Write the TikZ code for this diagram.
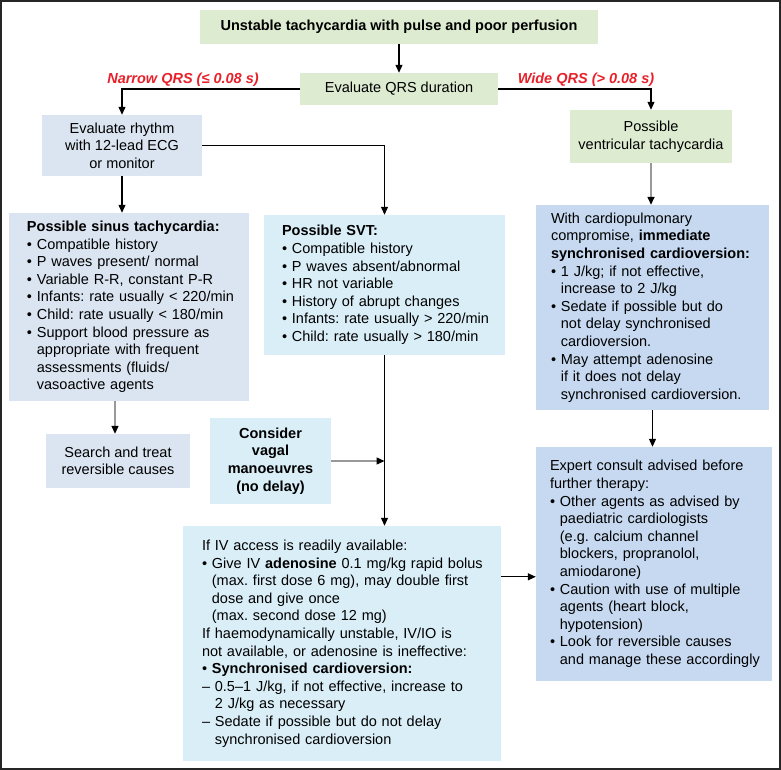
\documentclass[tikz,border=0pt]{standalone}
\usepackage{fontspec}
\setmainfont{Liberation Sans}
\usetikzlibrary{arrows.meta}
\definecolor{greenfill}{HTML}{DDEBD1}
\definecolor{greyfill}{HTML}{DBE5F1}
\definecolor{cyanfill}{HTML}{DAEEF7}
\definecolor{bluefill}{HTML}{C6D9F0}
\definecolor{labelred}{HTML}{E8202A}
\definecolor{linegrey}{HTML}{999999}
\newcommand{\itemdot}{\textbullet\ }
\newcommand{\itemgap}{\hphantom{\textbullet\ }}
\newcommand{\dashgap}{\hphantom{--\ }}

\begin{document}
\begin{tikzpicture}
[x=1pt,y=-1pt,
  boxdecorate/.style={shape=rectangle,inner sep=0pt,align=center,
    font=\fontsize{14.5}{17.6}\selectfont\frenchspacing},%
  listdecorate/.style={boxdecorate,align=left,
    execute at begin node={\rightskip=0pt plus 1fil minus 30pt}},%
  labeldecorate/.style={text=labelred,font=\fontsize{14.5}{17.6}\selectfont\bfseries\itshape},%
  linedecorate/.style={-{Triangle[length=8pt,width=7pt]},line width=1.1pt},%
  greylinedecorate/.style={linedecorate,draw=linegrey,
    -{Triangle[length=8pt,width=7pt,color=black]},line width=1.4pt}]
\useasboundingbox (0,0) rectangle (781,770);
\draw[line width=1.6pt,black!85] (0.8,0.8) rectangle (780.2,769.2);
%% nodes or boxes
\node (title) at (399,27) [boxdecorate,fill=greenfill,minimum width=398,minimum height=34]
  {\bfseries Unstable tachycardia with pulse and poor perfusion};
\node (qrs) at (399,89) [boxdecorate,fill=greenfill,minimum width=198,minimum height=32]
  {Evaluate QRS duration};
\node (narrow) at (183,80) [labeldecorate] {Narrow QRS (≤ 0.08 s)};
\node (wide) at (586,80) [labeldecorate] {Wide QRS (> 0.08 s)};
\node (rhythm) at (122,145.5) [boxdecorate,fill=greyfill,minimum width=160,minimum height=61]
  {Evaluate rhythm\\with 12-lead ECG\\or monitor};
\node (vt) at (651,136.5) [boxdecorate,fill=greenfill,minimum width=162,minimum height=53]
  {Possible\\ventricular tachycardia};
\node (sinus) at (129,307) [listdecorate,fill=greyfill,text width=204,inner xsep=18,minimum height=188]
  {\textbf{Possible sinus tachycardia:}\\
   \itemdot Compatible history\\
   \itemdot P waves present/ normal\\
   \itemdot Variable R-R, constant P-R\\
   \itemdot Infants: rate usually < 220/min\\
   \itemdot Child: rate usually < 180/min\\
   \itemdot Support blood pressure as\\
   \itemgap appropriate with frequent\\
   \itemgap assessments (fluids/\\
   \itemgap vasoactive agents};
\node (svt) at (384.5,285) [listdecorate,fill=cyanfill,text width=205,inner xsep=18,minimum height=140]
  {\textbf{Possible SVT:}\\
   \itemdot Compatible history\\
   \itemdot P waves absent/abnormal\\
   \itemdot HR not variable\\
   \itemdot History of abrupt changes\\
   \itemdot Infants: rate usually > 220/min\\
   \itemdot Child: rate usually > 180/min};
\node (cardio) at (652.5,307.5) [listdecorate,fill=bluefill,text width=203,inner xsep=15,minimum height=205]
  {With cardiopulmonary\\
   compromise, \textbf{immediate}\\
   \textbf{synchronised cardioversion:}\\
   \itemdot 1 J/kg; if not effective,\\
   \itemgap increase to 2 J/kg\\
   \itemdot Sedate if possible but do\\
   \itemgap not delay synchronised\\
   \itemgap cardioversion.\\
   \itemdot May attempt adenosine\\
   \itemgap if it does not delay\\
   \itemgap synchronised cardioversion.};
\node (search) at (118,461) [boxdecorate,fill=greyfill,minimum width=144,minimum height=54]
  {Search and treat\\reversible causes};
\node (vagal) at (270.5,461) [boxdecorate,fill=cyanfill,minimum width=121,minimum height=86,
  font=\fontsize{14.5}{17.6}\selectfont\bfseries]
  {Consider\\vagal\\manoeuvres\\(no delay)};
\node (iv) at (342,643.5) [listdecorate,fill=cyanfill,text width=280,inner xsep=19,minimum height=235]
  {If IV access is readily available:\\
   \itemdot Give IV \textbf{adenosine} 0.1 mg/kg rapid bolus\\
   \itemgap (max. first dose 6 mg), may double first\\
   \itemgap dose and give once\\
   \itemgap (max. second dose 12 mg)\\
   If haemodynamically unstable, IV/IO is\\
   not available, or adenosine is ineffective:\\
   \itemdot \textbf{Synchronised cardioversion:}\\
   -- 0.5--1 J/kg, if not effective, increase to\\
   \dashgap 2 J/kg as necessary\\
   -- Sedate if possible but do not delay\\
   \dashgap synchronised cardioversion};
\node (expert) at (654,564) [listdecorate,fill=bluefill,text width=208,inner xsep=14,minimum height=234]
  {Expert consult advised before\\
   further therapy:\\
   \itemdot Other agents as advised by\\
   \itemgap paediatric cardiologists\\
   \itemgap (e.g. calcium channel\\
   \itemgap blockers, propranolol,\\
   \itemgap amiodarone)\\
   \itemdot Caution with use of multiple\\
   \itemgap agents (heart block,\\
   \itemgap hypotension)\\
   \itemdot Look for reversible causes\\
   \itemgap and manage these accordingly};
%% edges or lines
\draw[linedecorate] (title) -- (qrs);
\draw[linedecorate] (qrs.west) -| (rhythm.north);
\draw[linedecorate] (qrs.east) -| (vt.north);
\draw[linedecorate] (rhythm.east) -| (svt.north);
\draw[linedecorate] (rhythm.south) -- (rhythm.south |- sinus.north);
\draw[greylinedecorate] (vt.south) -- (vt.south |- cardio.north);
\draw[linedecorate] (cardio.south) -- (cardio.south |- expert.north);
\draw[greylinedecorate] ([xshift=-3pt]search.north |- sinus.south) -- ([xshift=-3pt]search.north);
\draw[linedecorate] (svt.south) -- (svt.south |- iv.north);
\draw[greylinedecorate] (vagal.east) -- (vagal.east -| svt.south);
\draw[linedecorate] ([yshift=-51pt]iv.north east) -- ([yshift=-51pt]iv.north east -| expert.west);
\end{tikzpicture}
\end{document}
